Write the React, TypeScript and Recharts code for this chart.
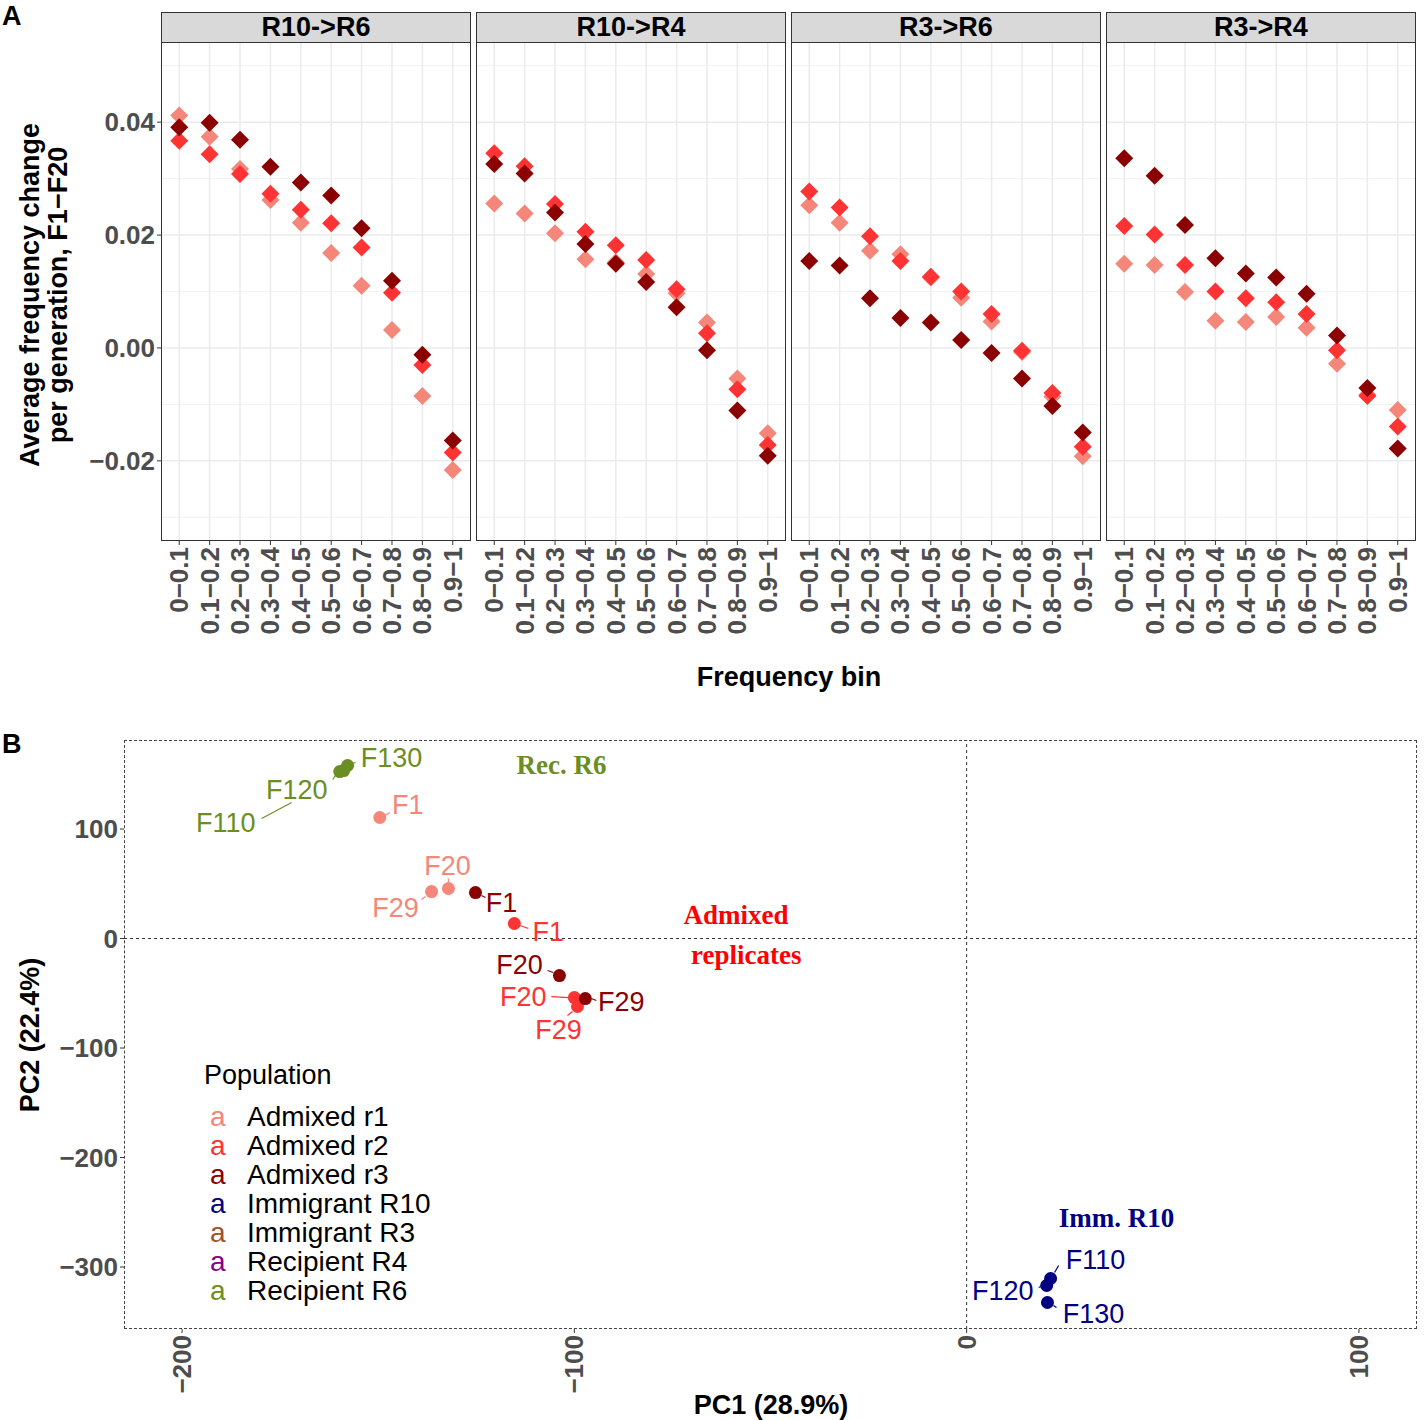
import React from 'react';
import {
  ScatterChart,
  Scatter,
  XAxis,
  YAxis,
  ReferenceLine,
} from 'recharts';

const FONT = '"Liberation Sans", Arial, Helvetica, sans-serif';
const SERIF = '"Liberation Serif", "Times New Roman", serif';

// ---- panel A data ----
const bins = ['0−0.1', '0.1−0.2', '0.2−0.3', '0.3−0.4', '0.4−0.5', '0.5−0.6', '0.6−0.7', '0.7−0.8', '0.8−0.9', '0.9−1'];
const facetNames = ['R10->R6', 'R10->R4', 'R3->R6', 'R3->R4'];

const r10r6_r1 = [0.0412, 0.0374, 0.0317, 0.0262, 0.0222, 0.0168, 0.011, 0.0032, -0.0085, -0.0216];
const r10r6_r2 = [0.0367, 0.0343, 0.0308, 0.0273, 0.0245, 0.0221, 0.0178, 0.0098, -0.003, -0.0185];
const r10r6_r3 = [0.0391, 0.0399, 0.0369, 0.0321, 0.0293, 0.027, 0.0212, 0.0119, -0.0012, -0.0164];

const r10r4_r1 = [0.0256, 0.0238, 0.0203, 0.0157, 0.0152, 0.0131, 0.0097, 0.0045, -0.0054, -0.0151];
const r10r4_r2 = [0.0345, 0.0322, 0.0255, 0.0206, 0.0182, 0.0156, 0.0104, 0.0026, -0.0073, -0.0172];
const r10r4_r3 = [0.0326, 0.0309, 0.024, 0.0184, 0.0149, 0.0117, 0.0072, -0.0004, -0.0111, -0.0191];

const r3r6_r1 = [0.0253, 0.0222, 0.0172, 0.0166, 0.0125, 0.0089, 0.0047, -0.0007, -0.0086, -0.0192];
const r3r6_r2 = [0.0277, 0.0249, 0.0198, 0.0154, 0.0126, 0.01, 0.006, -0.0005, -0.008, -0.0175];
const r3r6_r3 = [0.0154, 0.0146, 0.0088, 0.0053, 0.0045, 0.0014, -0.0009, -0.0054, -0.0103, -0.015];

const r3r4_r1 = [0.0149, 0.0147, 0.0099, 0.0048, 0.0046, 0.0055, 0.0036, -0.0028, -0.0083, -0.011];
const r3r4_r2 = [0.0216, 0.0201, 0.0147, 0.01, 0.0088, 0.0081, 0.006, -0.0004, -0.0085, -0.0139];
const r3r4_r3 = [0.0336, 0.0305, 0.0218, 0.0159, 0.0132, 0.0125, 0.0096, 0.0022, -0.0071, -0.0178];

const facetSeries = [
  [r10r6_r1, r10r6_r2, r10r6_r3],
  [r10r4_r1, r10r4_r2, r10r4_r3],
  [r3r6_r1, r3r6_r2, r3r6_r3],
  [r3r4_r1, r3r4_r2, r3r4_r3],
];

const yTicksA = [-0.02, 0, 0.02, 0.04];
const yMinorA = [-0.03, -0.01, 0.01, 0.03, 0.05];

// ---- panel B data ----
const recipientR6 = [
  { gen: 'F110', pc1: -158.8, pc2: 153.4 },
  { gen: 'F120', pc1: -159.8, pc2: 152.5 },
  { gen: 'F130', pc1: -157.8, pc2: 158.0 },
];
const admixedR1 = [
  { gen: 'F1', pc1: -149.6, pc2: 110.5 },
  { gen: 'F20', pc1: -132.1, pc2: 45.7 },
  { gen: 'F29', pc1: -136.4, pc2: 42.9 },
];
const admixedR2 = [
  { gen: 'F1', pc1: -115.3, pc2: 13.7 },
  { gen: 'F20', pc1: -100.0, pc2: -53.9 },
  { gen: 'F29', pc1: -99.2, pc2: -62.1 },
];
const admixedR3 = [
  { gen: 'F1', pc1: -125.2, pc2: 42.0 },
  { gen: 'F20', pc1: -103.8, pc2: -33.8 },
  { gen: 'F29', pc1: -97.2, pc2: -54.8 },
];
const immigrantR10 = [
  { gen: 'F110', pc1: 21.4, pc2: -310.5 },
  { gen: 'F120', pc1: 20.4, pc2: -316.9 },
  { gen: 'F130', pc1: 20.6, pc2: -332.4 },
];

const populations = [
  { id: 'r1', name: 'Admixed r1', color: '#F4877A', data: admixedR1 },
  { id: 'r2', name: 'Admixed r2', color: '#FF3333', data: admixedR2 },
  { id: 'r3', name: 'Admixed r3', color: '#8B0000', data: admixedR3 },
  { id: 'imm10', name: 'Immigrant R10', color: '#000080', data: immigrantR10 },
  { id: 'imm3', name: 'Immigrant R3', color: '#A0522D', data: [] },
  { id: 'rec4', name: 'Recipient R4', color: '#8B008B', data: [] },
  { id: 'rec6', name: 'Recipient R6', color: '#6B8E23', data: recipientR6 },
];

// repel-style label placement (pixels relative to the point)
const labelOffsets: Record<string, { tx: number; ty: number; line: number[] }> = {
  'rec6-F130': { tx: 44, ty: -8, line: [4, -2, 8, -3] },
  'rec6-F120': { tx: -43, ty: 18, line: [-7, 8, -3, 2] },
  'rec6-F110': { tx: -118, ty: 52, line: [-82, 48, -52, 32] },
  'r1-F1': { tx: 28, ty: -13, line: [5, -2, 10, -5] },
  'r1-F20': { tx: -1, ty: -22, line: [0, -6, 0, -10] },
  'r1-F29': { tx: -36, ty: 16, line: [-6, 5, -10, 8] },
  'r3-F1': { tx: 26, ty: 10, line: [6, 3, 10, 5] },
  'r3-F20': { tx: -40, ty: -11, line: [-6, -3, -12, -5] },
  'r3-F29': { tx: 36, ty: 3, line: [6, 0, 11, 2] },
  'r2-F1': { tx: 34, ty: 8, line: [6, 2, 14, 5] },
  'r2-F20': { tx: -51, ty: -1, line: [-23, -1, -6, 0] },
  'r2-F29': { tx: -19, ty: 23, line: [-5, 5, -10, 9] },
  'imm10-F110': { tx: 45, ty: -19, line: [4, -6, 8, -13] },
  'imm10-F120': { tx: -44, ty: 5, line: [-6, 1, -8, 2] },
  'imm10-F130': { tx: 46, ty: 11, line: [6, 3, 9, 5] },
};

const annotations = [
  { text: 'Rec. R6', pc1: -103.3, pc2: 158.9, color: '#6B8E23' },
  { text: 'Admixed', pc1: -58.8, pc2: 21.9, color: '#FF0000' },
  { text: 'replicates', pc1: -56.2, pc2: -15.5, color: '#FF0000' },
  { text: 'Imm. R10', pc1: 38.2, pc2: -254.8, color: '#000080' },
];

const fmtA = (v: number) => (v === 0 ? '0.00' : v.toFixed(2).replace('-', '−'));
const fmtB = (v: number) => String(v).replace('-', '−');

const facetLefts = [161, 476, 791, 1106];
const FACET_W = 310;
const PLOT_TOP = 42;
const PLOT_H = 499;

function Diamond(props: any) {
  const { cx, cy, fill } = props;
  const s = 9;
  return <polygon points={`${cx},${cy - s} ${cx + s},${cy} ${cx},${cy + s} ${cx - s},${cy}`} fill={fill} />;
}

function RotTick(props: any) {
  const { x, y, payload, fmt } = props;
  return (
    <text
      x={x}
      y={y}
      transform={`rotate(-90 ${x} ${y})`}
      textAnchor="end"
      dominantBaseline="central"
      fontSize={26}
      fontWeight="bold"
      fill="#4D4D4D"
      fontFamily={FONT}
    >
      {fmt(payload.value)}
    </text>
  );
}

function LeftTick(props: any) {
  const { x, y, payload, fmt } = props;
  return (
    <text x={x} y={y} textAnchor="end" dominantBaseline="central" fontSize={26} fontWeight="bold" fill="#4D4D4D" fontFamily={FONT}>
      {fmt(payload.value)}
    </text>
  );
}

function Facet({ idx }: { idx: number }) {
  const axisW = idx === 0 ? 80 : 0;
  const series = facetSeries[idx];
  return (
    <div style={{ position: 'absolute', left: facetLefts[idx] - axisW, top: PLOT_TOP }}>
      <ScatterChart width={FACET_W + axisW} height={PLOT_H + 100} margin={{ top: 0, right: 0, bottom: 0, left: 0 }}>
        <XAxis
          type="number"
          dataKey="x"
          domain={[0.4, 10.6]}
          ticks={bins.map((_, i) => i + 1)}
          allowDataOverflow
          interval={0}
          height={100}
          tickSize={4}
          axisLine={false}
          tickLine={{ stroke: '#333' }}
          tick={(p: any) => <RotTick {...p} fmt={(v: number) => bins[v - 1]} />}
        />
        <YAxis
          type="number"
          dataKey="y"
          domain={[-0.0342, 0.0542]}
          ticks={yTicksA}
          allowDataOverflow
          hide={idx !== 0}
          width={axisW}
          tickSize={4}
          axisLine={false}
          tickLine={{ stroke: '#333' }}
          tick={(p: any) => <LeftTick {...p} fmt={fmtA} />}
        />
        {yMinorA.map((v) => (
          <ReferenceLine key={'mi' + v} y={v} stroke="#F2F2F2" strokeWidth={1} />
        ))}
        {yTicksA.map((v) => (
          <ReferenceLine key={'ma' + v} y={v} stroke="#EBEBEB" strokeWidth={1.5} />
        ))}
        {bins.map((_, i) => (
          <ReferenceLine key={'vx' + i} x={i + 1} stroke="#EBEBEB" strokeWidth={1.5} />
        ))}
        {series.map((vals, r) => (
          <Scatter
            key={r}
            data={vals.map((v, i) => ({ x: i + 1, y: v }))}
            fill={populations[r].color}
            shape={Diamond}
            isAnimationActive={false}
          />
        ))}
      </ScatterChart>
    </div>
  );
}

function PcaPoint(props: any) {
  const { cx, cy, fill, popId } = props;
  const row = props.payload ?? props;
  const o = labelOffsets[`${popId}-${row.gen}`];
  return (
    <g>
      {o && (
        <line x1={cx + o.line[0]} y1={cy + o.line[1]} x2={cx + o.line[2]} y2={cy + o.line[3]} stroke={fill} strokeWidth={1.2} />
      )}
      <circle cx={cx} cy={cy} r={6.5} fill={fill} />
      {o && (
        <text x={cx + o.tx} y={cy + o.ty} textAnchor="middle" dominantBaseline="central" fontSize={27} fill={fill} fontFamily={FONT}>
          {row.gen}
        </text>
      )}
    </g>
  );
}

function AnnotText(props: any) {
  const { cx, cy } = props;
  const row = props.payload ?? props;
  return (
    <text x={cx} y={cy} textAnchor="middle" dominantBaseline="central" fontSize={27} fontWeight="bold" fill={row.color} fontFamily={SERIF}>
      {row.text}
    </text>
  );
}

function PcaPanel() {
  const axisW = 100;
  return (
    <div style={{ position: 'absolute', left: 124 - axisW, top: 740 }}>
      <ScatterChart width={1293 + axisW} height={589 + 70} margin={{ top: 0, right: 0, bottom: 0, left: 0 }}>
        <XAxis
          type="number"
          dataKey="pc1"
          domain={[-214.8, 114.8]}
          ticks={[-200, -100, 0, 100]}
          allowDataOverflow
          height={70}
          tickSize={4}
          axisLine={false}
          tickLine={{ stroke: '#333' }}
          tick={(p: any) => <RotTick {...p} fmt={fmtB} />}
        />
        <YAxis
          type="number"
          dataKey="pc2"
          domain={[-356.6, 181.3]}
          ticks={[-300, -200, -100, 0, 100]}
          allowDataOverflow
          width={axisW}
          tickSize={4}
          axisLine={false}
          tickLine={{ stroke: '#333' }}
          tick={(p: any) => <LeftTick {...p} fmt={fmtB} />}
        />
        <ReferenceLine x={0} stroke="#333" strokeDasharray="3 3" />
        <ReferenceLine y={0} stroke="#333" strokeDasharray="3 3" />
        {populations.map((pop) => (
          <Scatter
            key={pop.id}
            data={pop.data}
            fill={pop.color}
            shape={(p: any) => <PcaPoint {...p} popId={pop.id} />}
            isAnimationActive={false}
          />
        ))}
        <Scatter data={annotations} fill="none" shape={AnnotText} isAnimationActive={false} />
      </ScatterChart>
    </div>
  );
}

function Legend() {
  return (
    <div style={{ position: 'absolute', left: 204, top: 1058, fontFamily: FONT, color: '#000' }}>
      <div style={{ fontSize: 27, lineHeight: '34px', marginBottom: 10 }}>Population</div>
      {populations.map((p) => (
        <div key={p.id} style={{ fontSize: 28, lineHeight: '29px', height: 29, display: 'flex', whiteSpace: 'nowrap' }}>
          <span style={{ color: p.color, width: 37, marginLeft: 6 }}>a</span>
          <span>{p.name}</span>
        </div>
      ))}
    </div>
  );
}

export default function App() {
  return (
    <div style={{ position: 'absolute', left: 0, top: 0, width: 1424, height: 1420, background: '#fff', fontFamily: FONT, overflow: 'hidden' }}>
      {facetNames.map((name, i) => (
        <React.Fragment key={name}>
          <div
            style={{
              position: 'absolute',
              left: facetLefts[i],
              top: 12,
              width: FACET_W,
              height: 31,
              boxSizing: 'border-box',
              background: '#D9D9D9',
              border: '1px solid #333',
              textAlign: 'center',
              fontWeight: 'bold',
              fontSize: 27,
              lineHeight: '29px',
            }}
          >
            {name}
          </div>
          <Facet idx={i} />
          <div
            style={{
              position: 'absolute',
              left: facetLefts[i],
              top: PLOT_TOP,
              width: FACET_W,
              height: PLOT_H,
              boxSizing: 'border-box',
              border: '1px solid #333',
              pointerEvents: 'none',
            }}
          />
        </React.Fragment>
      ))}
      <PcaPanel />
      <div
        style={{
          position: 'absolute',
          left: 124,
          top: 740,
          width: 1293,
          height: 589,
          boxSizing: 'border-box',
          border: '1px dashed #444',
          pointerEvents: 'none',
        }}
      />
      <Legend />
      <svg width={1424} height={1420} style={{ position: 'absolute', left: 0, top: 0, pointerEvents: 'none' }}>
        <g fontFamily={FONT} fontWeight="bold" fontSize={27} fill="#000">
          <text x={2} y={25} fontSize={27}>A</text>
          <text x={2} y={753} fontSize={27}>B</text>
          <text x={789} y={686} textAnchor="middle">Frequency bin</text>
          <text transform="rotate(-90 30 295)" x={30} y={295} textAnchor="middle" dominantBaseline="central">
            Average frequency change
          </text>
          <text transform="rotate(-90 58 295)" x={58} y={295} textAnchor="middle" dominantBaseline="central">
            per generation, F1−F20
          </text>
          <text x={771} y={1414} textAnchor="middle">PC1 (28.9%)</text>
          <text transform="rotate(-90 30 1035)" x={30} y={1035} textAnchor="middle" dominantBaseline="central">
            PC2 (22.4%)
          </text>
        </g>
      </svg>
    </div>
  );
}
